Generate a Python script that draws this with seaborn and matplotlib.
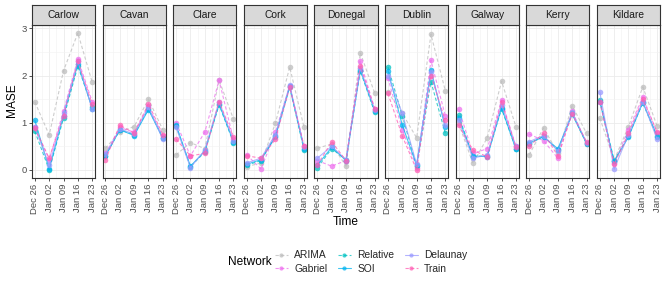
"""
MASE by county and network, weekly forecast origins (Dec 26 - Jan 23).
Faceted line chart, one panel per county.
"""

import pandas as pd
import matplotlib
matplotlib.use("Agg")
import matplotlib.pyplot as plt
from matplotlib.lines import Line2D
import seaborn as sns

# ---- Data -----------------------------------------------------------------

counties = ["Carlow", "Cavan", "Clare", "Cork", "Donegal",
            "Dublin", "Galway", "Kerry", "Kildare"]
dates = ["2020-12-26", "2021-01-02", "2021-01-09", "2021-01-16", "2021-01-23"]
tick_labels = ["Dec 26", "Jan 02", "Jan 09", "Jan 16", "Jan 23"]
networks = ["ARIMA", "Gabriel", "Relative", "SOI", "Delaunay", "Train"]

# one row per county (same order as `counties`), one value per date
arima = [
    [1.44, 0.74, 2.10, 2.90, 1.86],
    [0.46, 0.81, 0.92, 1.50, 0.85],
    [0.32, 0.58, 0.45, 1.90, 1.08],
    [0.07, 0.15, 0.99, 2.18, 0.90],
    [0.46, 0.55, 0.08, 2.48, 1.63],
    [1.65, 1.20, 0.68, 2.87, 1.68],
    [0.99, 0.14, 0.68, 1.88, 0.92],
    [0.32, 0.89, 0.36, 1.36, 0.78],
    [1.10, 0.21, 0.92, 1.76, 0.93],
]
gabriel = [
    [0.90, 0.22, 1.25, 2.35, 1.45],
    [0.35, 0.90, 0.80, 1.35, 0.72],
    [1.00, 0.30, 0.80, 1.90, 0.65],
    [0.32, 0.02, 0.80, 1.78, 0.50],
    [0.20, 0.08, 0.20, 2.30, 1.30],
    [1.95, 0.85, 0.05, 2.32, 1.15],
    [1.30, 0.35, 0.45, 1.48, 0.50],
    [0.76, 0.62, 0.25, 1.25, 0.55],
    [1.45, 0.15, 0.85, 1.55, 0.78],
]
relative = [
    [0.82, 0.00, 1.10, 2.20, 1.33],
    [0.30, 0.85, 0.75, 1.30, 0.68],
    [0.93, 0.07, 0.38, 1.38, 0.58],
    [0.10, 0.20, 0.72, 1.75, 0.42],
    [0.05, 0.45, 0.22, 2.10, 1.22],
    [2.18, 1.15, 0.08, 1.87, 0.78],
    [1.16, 0.28, 0.30, 1.30, 0.45],
    [0.55, 0.72, 0.42, 1.20, 0.55],
    [1.48, 0.20, 0.72, 1.42, 0.70],
]
soi = [
    [1.05, 0.02, 1.15, 2.25, 1.30],
    [0.30, 0.85, 0.73, 1.28, 0.67],
    [0.95, 0.08, 0.40, 1.40, 0.60],
    [0.12, 0.22, 0.70, 1.77, 0.45],
    [0.10, 0.48, 0.20, 2.12, 1.25],
    [2.10, 0.95, 0.10, 2.12, 0.90],
    [1.10, 0.30, 0.28, 1.32, 0.44],
    [0.57, 0.70, 0.45, 1.18, 0.57],
    [1.45, 0.18, 0.70, 1.43, 0.72],
]
delaunay = [
    [0.90, 0.10, 1.20, 2.30, 1.30],
    [0.33, 0.87, 0.76, 1.33, 0.65],
    [0.90, 0.05, 0.42, 1.45, 0.62],
    [0.15, 0.25, 0.75, 1.80, 0.48],
    [0.25, 0.50, 0.22, 2.15, 1.28],
    [2.00, 1.20, 0.12, 2.08, 0.95],
    [1.05, 0.25, 0.32, 1.38, 0.50],
    [0.60, 0.73, 0.40, 1.22, 0.58],
    [1.65, 0.02, 0.75, 1.45, 0.65],
]
train = [
    [0.88, 0.25, 1.15, 2.30, 1.40],
    [0.22, 0.95, 0.78, 1.40, 0.75],
    [0.65, 0.30, 0.35, 1.45, 0.70],
    [0.30, 0.25, 0.65, 1.75, 0.50],
    [0.10, 0.60, 0.20, 2.20, 1.30],
    [1.62, 0.72, 0.00, 2.00, 1.05],
    [0.95, 0.42, 0.28, 1.45, 0.48],
    [0.50, 0.78, 0.30, 1.18, 0.60],
    [1.45, 0.12, 0.78, 1.50, 0.80],
]

series = {"ARIMA": arima, "Gabriel": gabriel, "Relative": relative,
          "SOI": soi, "Delaunay": delaunay, "Train": train}

rows = []
for net, table in series.items():
    for county, vals in zip(counties, table):
        for d, v in zip(dates, vals):
            rows.append({"Network": net, "County": county,
                         "Time": pd.Timestamp(d), "MASE": v})
df = pd.DataFrame(rows)

# ---- Styling --------------------------------------------------------------

palette = {"ARIMA": "#BDBDBD", "Gabriel": "#EE6FEE", "Relative": "#00C2C2",
           "SOI": "#00B4F0", "Delaunay": "#9A9AFF", "Train": "#FF5FB4"}
dashes = {"ARIMA": (3, 2), "Gabriel": (3, 2), "Relative": (3, 2),
          "SOI": "", "Delaunay": "", "Train": (3, 2)}
markers = {n: "o" for n in networks}

sns.set_theme(style="white")
plt.rcParams["font.family"] = ["Liberation Sans", "DejaVu Sans"]

W, H = 664, 288
fig, axes = plt.subplots(1, 9, figsize=(W / 100, H / 100), dpi=100, sharey=True)
fig.subplots_adjust(left=32 / W, right=660 / W, top=1 - 25 / H,
                    bottom=1 - 178 / H, wspace=0.12)

x0 = pd.Timestamp(dates[0]) - pd.Timedelta(days=1.4)
x1 = pd.Timestamp(dates[-1]) + pd.Timedelta(days=1.4)
ticks = [pd.Timestamp(d) for d in dates]
minor = [t + pd.Timedelta(days=3.5) for t in ticks[:-1]]

for i, (ax, county) in enumerate(zip(axes, counties)):
    sub = df[df["County"] == county]
    sns.lineplot(data=sub, x="Time", y="MASE", hue="Network", style="Network",
                 hue_order=networks, style_order=networks, palette=palette,
                 dashes=dashes, markers=markers, markersize=4,
                 markeredgewidth=0, linewidth=0.8, alpha=0.75,
                 legend=False, ax=ax)

    ax.set_xlim(x0, x1)
    ax.set_ylim(-0.17, 3.07)
    ax.set_xticks(ticks)
    ax.set_xticklabels(tick_labels, rotation=90, ha="center", va="top",
                       fontsize=6.8, color="#4D4D4D")
    ax.set_xticks(minor, minor=True)
    ax.set_yticks([0, 1, 2, 3])
    ax.set_yticks([0.5, 1.5, 2.5], minor=True)
    ax.grid(which="major", color="#EBEBEB", linewidth=0.6)
    ax.grid(which="minor", color="#F2F2F2", linewidth=0.4)
    ax.set_axisbelow(True)
    ax.set_xlabel("")
    ax.set_ylabel("")
    ax.tick_params(axis="both", which="major", length=2.5, width=0.6,
                   color="#333333", pad=1.5, bottom=True, left=(i == 0))
    ax.tick_params(axis="y", labelsize=6.8, labelcolor="#4D4D4D")
    ax.tick_params(which="minor", length=0)
    for sp in ax.spines.values():
        sp.set_color("#333333")
        sp.set_linewidth(0.8)

    # facet strip
    pos = ax.get_position()
    strip = fig.add_axes([pos.x0, pos.y1, pos.width, 20 / H])
    strip.set_facecolor("#D9D9D9")
    strip.set_xticks([])
    strip.set_yticks([])
    for sp in strip.spines.values():
        sp.set_color("#333333")
        sp.set_linewidth(0.8)
    strip.text(0.5, 0.48, county, ha="center", va="center",
               fontsize=7.4, color="#1A1A1A", transform=strip.transAxes)

fig.text(12 / W, 1 - 100 / H, "MASE", rotation=90, ha="center", va="center",
         fontsize=8.6, color="black")
fig.text(346 / W, 1 - 222 / H, "Time", ha="center", va="center",
         fontsize=8.6, color="black")

handles = [Line2D([0], [0], color=palette[n], marker="o", markersize=3,
                  markeredgewidth=0, linewidth=0.8, alpha=0.75,
                  dashes=dashes[n] if dashes[n] else (None, None))
           for n in networks]
fig.text(228 / W, 1 - 262 / H, "Network", ha="left", va="center",
         fontsize=8.6, color="black")
fig.legend(handles, networks, loc="center", bbox_to_anchor=(371 / W, 1 - 262 / H),
           ncol=3, frameon=False, fontsize=7.4, handlelength=1.3,
           handletextpad=0.6, columnspacing=1.0, labelspacing=0.35,
           borderpad=0)

fig.savefig("out.png", dpi=100)
